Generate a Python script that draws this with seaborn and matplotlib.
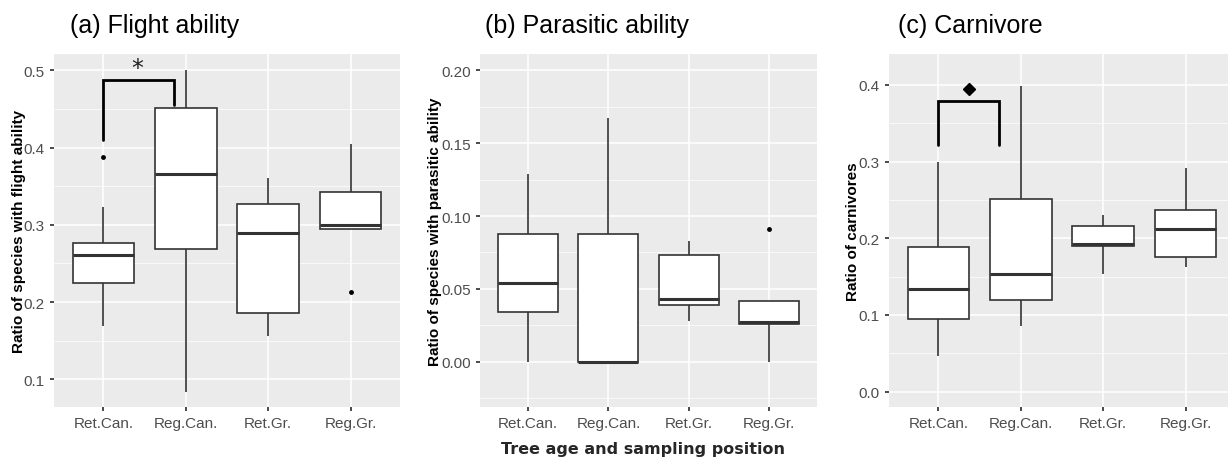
import numpy as np
import pandas as pd
import seaborn as sns
import matplotlib
matplotlib.use('Agg')
import matplotlib.pyplot as plt
from matplotlib.ticker import MultipleLocator

# 그룹 (수령 / 채집 위치)
cats = ['Ret.Can.', 'Reg.Can.', 'Ret.Gr.', 'Reg.Gr.']

# (a) flight ability : whisker low, Q1, median, Q3, whisker high
flight_low = [0.169, 0.083, 0.156, 0.294]
flight_q1 = [0.225, 0.269, 0.186, 0.294]
flight_med = [0.261, 0.366, 0.289, 0.300]
flight_q3 = [0.277, 0.451, 0.327, 0.343]
flight_high = [0.323, 0.500, 0.361, 0.405]
flight_out_cat = ['Ret.Can.', 'Reg.Gr.']
flight_out_val = [0.388, 0.213]

# (b) parasitic ability
para_low = [0.0, 0.0, 0.028, 0.0]
para_q1 = [0.034, 0.0, 0.039, 0.026]
para_med = [0.054, 0.0, 0.043, 0.027]
para_q3 = [0.088, 0.088, 0.073, 0.042]
para_high = [0.129, 0.167, 0.083, 0.042]
para_out_cat = ['Reg.Gr.']
para_out_val = [0.091]

# (c) carnivore
carn_low = [0.046, 0.085, 0.154, 0.163]
carn_q1 = [0.095, 0.120, 0.190, 0.176]
carn_med = [0.134, 0.153, 0.193, 0.212]
carn_q3 = [0.189, 0.251, 0.216, 0.237]
carn_high = [0.300, 0.399, 0.230, 0.291]
carn_out_cat = []
carn_out_val = []

# 유의성 표시 (bracket: left y, top y, right y)
flight_bracket = [0.410, 0.488, 0.455]
carn_bracket = [0.321, 0.379, 0.321]

sns.set_theme(style='darkgrid', rc={
    'axes.facecolor': '#EBEBEB',
    'grid.color': 'white',
    'grid.linewidth': 1.1,
    'xtick.bottom': True,
    'ytick.left': True,
    'xtick.major.size': 3,
    'ytick.major.size': 3,
    'xtick.color': '#333333',
    'ytick.color': '#333333',
    'xtick.labelcolor': '#4D4D4D',
    'ytick.labelcolor': '#4D4D4D',
    'xtick.labelsize': 11,
    'ytick.labelsize': 11,
})
plt.rcParams['font.family'] = ['Liberation Sans', 'DejaVu Sans']


def make_df(low, q1, med, q3, high):
    rows = []
    for i, c in enumerate(cats):
        for v in (low[i], q1[i], med[i], q3[i], high[i]):
            rows.append({'group': c, 'value': v})
    return pd.DataFrame(rows)


def draw(ax, df, out_cat, out_val, ylabel, ylim, step, fmt, title, tx, ylab_x):
    sns.boxplot(data=df, x='group', y='value', order=cats, whis=(0, 100),
                width=0.75, color='white', linecolor='#333333', linewidth=1.2,
                showfliers=False, showcaps=False,
                medianprops={'linewidth': 2.2, 'color': '#333333'},
                ax=ax)
    if out_cat:
        sns.stripplot(x=out_cat, y=out_val, order=cats, jitter=False,
                      color='black', size=3.5, ax=ax)
    ax.set_xlim(-0.6, 3.6)
    ax.set_ylim(*ylim)
    ax.yaxis.set_major_locator(MultipleLocator(step))
    ax.yaxis.set_minor_locator(MultipleLocator(step / 2))
    ax.yaxis.set_major_formatter(plt.FormatStrFormatter(fmt))
    ax.grid(which='major', axis='both', color='white', linewidth=1.1)
    ax.grid(which='minor', axis='y', color='white', linewidth=0.5)
    ax.set_axisbelow(True)
    ax.tick_params(which='minor', left=False)
    ax.set_xlabel('')
    ax.set_ylabel(ylabel, fontsize=11, fontweight='bold', color='black')
    ax.yaxis.set_label_coords(ylab_x, 0.5)
    for s in ax.spines.values():
        s.set_visible(False)
    ax.text(tx, 1.062, title, transform=ax.transAxes, fontsize=18,
            ha='left', va='baseline', color='black')


fig = plt.figure(figsize=(12.28, 4.6), dpi=100)
ax1 = fig.add_axes([54 / 1228, 0.113, 346 / 1228, 0.767])
ax2 = fig.add_axes([480 / 1228, 0.113, 337 / 1228, 0.767])
ax3 = fig.add_axes([889 / 1228, 0.113, 346 / 1228, 0.767])

draw(ax1, make_df(flight_low, flight_q1, flight_med, flight_q3, flight_high),
     flight_out_cat, flight_out_val, 'Ratio of species with flight ability',
     (0.064, 0.521), 0.1, '%.1f', '(a) Flight ability', 0.046, -0.081)
draw(ax2, make_df(para_low, para_q1, para_med, para_q3, para_high),
     para_out_cat, para_out_val, 'Ratio of species with parasitic ability',
     (-0.031, 0.211), 0.05, '%.2f', '(b) Parasitic ability', 0.015, -0.113)
draw(ax3, make_df(carn_low, carn_q1, carn_med, carn_q3, carn_high),
     carn_out_cat, carn_out_val, 'Ratio of carnivores',
     (-0.02, 0.44), 0.1, '%.1f', '(c) Carnivore', 0.026, -0.084)

# 유의성 bracket
ax1.plot([0, 0, 0.855, 0.855], [flight_bracket[0], flight_bracket[1], flight_bracket[1], flight_bracket[2]],
         color='black', linewidth=2.0, solid_joinstyle='miter')
ax1.text(0.41, 0.487, '*', fontsize=17, ha='center', va='bottom', color='#222222',
         family='DejaVu Sans')
ax3.plot([0, 0, 0.73, 0.73], [carn_bracket[0], carn_bracket[1], carn_bracket[1], carn_bracket[2]],
         color='black', linewidth=2.0, solid_joinstyle='miter')
ax3.plot([0.37], [0.394], marker='D', markersize=6, color='black')

fig.text(643 / 1228, 1 - 450 / 460, 'Tree age and sampling position', ha='center', va='center',
         fontsize=11.5, fontweight='bold', family='DejaVu Sans')

fig.savefig('out.png', dpi=100, facecolor='white')
